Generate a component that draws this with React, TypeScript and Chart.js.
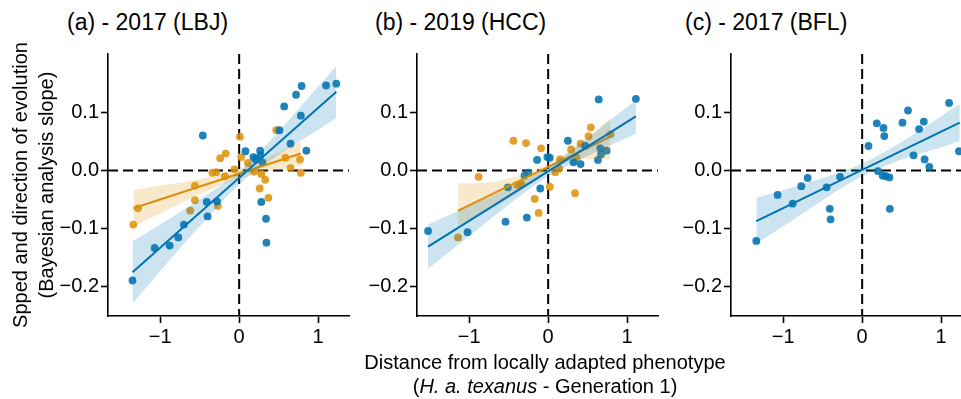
import React, { useEffect, useRef } from "react";
import { Chart, registerables } from "chart.js";
Chart.register(...registerables);

const FONT = "'Liberation Sans', Arial, Helvetica, sans-serif";

// ---- axis config ----
const X_MIN = -1.66;
const X_MAX = 1.39;
const Y_MIN = -0.25;
const Y_MAX = 0.2;
const X_TICKS = [-1, 0, 1];
const X_TICK_LABELS = ["\u22121", "0", "1"];
const Y_TICKS = [-0.2, -0.1, 0, 0.1];
const Y_TICK_LABELS = ["\u22120.2", "\u22120.1", "0.0", "0.1"];

const TITLES = ["(a) - 2017 (LBJ)", "(b) - 2019 (HCC)", "(c) - 2017 (BFL)"];

// ---- panel (a) blue ----
const aBlueX = [-1.35, -1.07, -0.88, -0.77, -0.7, -0.4, -0.41, -0.28, -0.46, 0.08, 0.18, 0.265, 0.27, 0.295, 0.21, 0.28, 0.34, 0.345, 0.51, 0.57, 0.65, 0.72, 0.78, 0.79, 0.85, 1.1, 1.23];
const aBlueY = [-0.189, -0.133, -0.129, -0.115, -0.093, -0.079, -0.054, -0.053, 0.06, 0.033, 0.023, 0.034, 0.026, 0.014, 0.019, -0.054, -0.083, -0.124, 0.069, 0.11, 0.046, 0.13, 0.094, 0.145, 0.034, 0.146, 0.149];
const aBlueFitX = [-1.35, 1.23];
const aBlueFitY = [-0.175, 0.135];
const aBlueBandX = [-1.35, -1.0, -0.5, 0, 0.5, 1.0, 1.23];
const aBlueBandHi = [-0.122, -0.093, -0.05, -0.002, 0.067, 0.144, 0.18];
const aBlueBandLo = [-0.228, -0.173, -0.096, -0.024, 0.027, 0.07, 0.09];

// ---- panel (a) orange ----
const aOrangeX = [-1.34, -1.28, -0.56, -0.56, -0.62, -0.27, -0.24, -0.17, -0.34, -0.29, -0.18, -0.06, 0.01, 0.025, 0.11, 0.19, 0.28, 0.33, 0.26, 0.37, 0.47, 0.585, 0.65, 0.77, 0.78];
const aOrangeY = [-0.093, -0.065, -0.026, -0.051, -0.069, -0.061, 0.021, 0.029, -0.004, -0.003, -0.01, 0.002, 0.058, 0.023, 0.013, -0.002, -0.006, -0.016, -0.031, -0.047, 0.069, 0.022, 0.004, 0.019, -0.004];
const aOrangeFitX = [-1.34, 0.78];
const aOrangeFitY = [-0.065, 0.029];
const aOrangeBandX = [-1.34, -1.0, -0.5, 0, 0.4, 0.78];
const aOrangeBandHi = [-0.034, -0.026, -0.015, 0.002, 0.025, 0.05];
const aOrangeBandLo = [-0.096, -0.074, -0.041, -0.014, -0.001, 0.008];

// ---- panel (b) blue ----
const bBlueX = [-1.52, -1.02, -0.54, -0.27, -0.1, -0.14, -0.01, 0.02, 0.25, 0.64, 1.11, 0.47, -0.51, -0.3, -0.25, 0.32, 0.41, 0.66, 0.74, 0.67, 0.63];
const bBlueY = [-0.104, -0.106, -0.088, -0.081, -0.031, 0.018, 0.023, 0.022, 0.051, 0.122, 0.123, 0.042, -0.029, -0.009, -0.004, 0.014, 0.011, 0.038, 0.034, 0.028, 0.018];
const bBlueFitX = [-1.52, 1.11];
const bBlueFitY = [-0.131, 0.093];
const bBlueBandX = [-1.52, -1.0, -0.5, 0, 0.5, 1.11];
const bBlueBandHi = [-0.093, -0.061, -0.03, 0.006, 0.056, 0.121];
const bBlueBandLo = [-0.169, -0.113, -0.059, -0.01, 0.025, 0.063];

// ---- panel (b) orange ----
const bOrangeX = [-1.14, -0.88, -0.44, -0.28, -0.09, 0.02, -0.17, -0.12, -0.39, -0.34, 0.09, 0.14, 0.15, 0.29, 0.36, 0.41, 0.51, 0.54, 0.79, 0.34];
const bOrangeY = [-0.115, -0.011, 0.051, 0.047, 0.038, -0.028, -0.049, -0.073, -0.025, -0.023, -0.003, 0.003, 0.019, 0.036, 0.022, 0.046, 0.059, 0.074, 0.062, -0.039];
const bOrangeFitX = [-1.14, 0.79];
const bOrangeFitY = [-0.069, 0.058];
const bOrangeBandX = [-1.14, -0.8, -0.4, 0, 0.4, 0.79];
const bOrangeBandHi = [-0.022, -0.021, -0.01, 0.013, 0.045, 0.09];
const bOrangeBandLo = [-0.094, -0.072, -0.04, -0.004, 0.02, 0.019];

// ---- panel (c) blue ----
const cBlueX = [-1.34, -1.07, -0.88, -0.77, -0.69, -0.45, -0.41, -0.4, -0.28, 0.08, 0.185, 0.27, 0.28, 0.2, 0.26, 0.3, 0.345, 0.35, 0.51, 0.58, 0.65, 0.72, 0.78, 0.79, 0.85, 1.1, 1.225];
const cBlueY = [-0.121, -0.042, -0.057, -0.027, -0.013, -0.029, -0.066, -0.084, -0.011, 0.042, 0.081, 0.073, 0.059, -0.001, -0.009, -0.01, -0.012, -0.066, 0.082, 0.103, 0.026, 0.071, 0.084, 0.019, 0.006, 0.116, 0.033];
const cBlueFitX = [-1.34, 1.235];
const cBlueFitY = [-0.087, 0.082];
const cBlueBandX = [-1.34, -1.0, -0.5, 0, 0.5, 1.0, 1.235];
const cBlueBandHi = [-0.047, -0.034, -0.013, 0.012, 0.049, 0.093, 0.114];
const cBlueBandLo = [-0.126, -0.096, -0.051, -0.01, 0.019, 0.04, 0.05];

const BLUE = { line: "#0173b2", point: "rgba(1,115,178,0.88)", band: "rgba(1,115,178,0.2)" };
const ORANGE = { line: "#de8f05", point: "rgba(222,143,5,0.85)", band: "rgba(222,143,5,0.2)" };

type Series = {
  x: number[]; y: number[];
  fitX: number[]; fitY: number[];
  bandX: number[]; bandHi: number[]; bandLo: number[];
  colors: { line: string; point: string; band: string };
};

const A_SERIES: Series[] = [
  { x: aOrangeX, y: aOrangeY, fitX: aOrangeFitX, fitY: aOrangeFitY, bandX: aOrangeBandX, bandHi: aOrangeBandHi, bandLo: aOrangeBandLo, colors: ORANGE },
  { x: aBlueX, y: aBlueY, fitX: aBlueFitX, fitY: aBlueFitY, bandX: aBlueBandX, bandHi: aBlueBandHi, bandLo: aBlueBandLo, colors: BLUE },
];
const B_SERIES: Series[] = [
  { x: bOrangeX, y: bOrangeY, fitX: bOrangeFitX, fitY: bOrangeFitY, bandX: bOrangeBandX, bandHi: bOrangeBandHi, bandLo: bOrangeBandLo, colors: ORANGE },
  { x: bBlueX, y: bBlueY, fitX: bBlueFitX, fitY: bBlueFitY, bandX: bBlueBandX, bandHi: bBlueBandHi, bandLo: bBlueBandLo, colors: BLUE },
];
const C_SERIES: Series[] = [
  { x: cBlueX, y: cBlueY, fitX: cBlueFitX, fitY: cBlueFitY, bandX: cBlueBandX, bandHi: cBlueBandHi, bandLo: cBlueBandLo, colors: BLUE },
];

const pts = (xs: number[], ys: number[]) => xs.map((x, i) => ({ x, y: ys[i] }));

const CANVAS_W = 313;
const CANVAS_H = 316;

function Panel({ left, series }: { left: number; series: Series[] }) {
  const ref = useRef<HTMLCanvasElement>(null);
  useEffect(() => {
    const datasets: any[] = [];
    datasets.push({
      data: [{ x: 0, y: Y_MAX }, { x: 0, y: Y_MIN }],
      showLine: true, borderColor: "#000", borderWidth: 2, borderDash: [10, 5],
      pointRadius: 0, order: 200,
    });
    datasets.push({
      data: [{ x: X_MIN, y: 0 }, { x: X_MAX, y: 0 }],
      showLine: true, borderColor: "#000", borderWidth: 2, borderDash: [10, 5],
      pointRadius: 0, order: 200,
    });
    series.forEach((s, k) => {
      datasets.push({
        data: pts(s.x, s.y), showLine: false,
        pointRadius: 3.9, pointBorderWidth: 0,
        pointBackgroundColor: s.colors.point, backgroundColor: s.colors.point,
        order: 150 - k,
      });
    });
    series.forEach((s, k) => {
      datasets.push({
        data: pts(s.bandX, s.bandHi), showLine: true, borderWidth: 0,
        borderColor: "rgba(0,0,0,0)", pointRadius: 0,
        cubicInterpolationMode: "monotone",
        fill: "+1", backgroundColor: s.colors.band, order: 100 - 10 * k,
      });
      datasets.push({
        data: pts(s.bandX, s.bandLo), showLine: true, borderWidth: 0,
        borderColor: "rgba(0,0,0,0)", pointRadius: 0,
        cubicInterpolationMode: "monotone",
        fill: false, order: 100 - 10 * k,
      });
      datasets.push({
        data: pts(s.fitX, s.fitY), showLine: true, borderWidth: 2,
        borderColor: s.colors.line, pointRadius: 0, fill: false,
        order: 99 - 10 * k,
      });
    });

    const tickFont = { family: FONT, size: 20 };
    const chart = new Chart(ref.current!, {
      type: "scatter",
      data: { datasets },
      options: {
        animation: false,
        responsive: false,
        maintainAspectRatio: false,
        layout: { padding: { top: 7, right: 12, left: 0, bottom: 0 } },
        plugins: { legend: { display: false }, tooltip: { enabled: false } },
        scales: {
          x: {
            type: "linear", min: X_MIN, max: X_MAX,
            afterBuildTicks: (sc: any) => { sc.ticks = X_TICKS.map((v) => ({ value: v })); },
            afterFit: (sc: any) => { sc.height = 40; },
            ticks: {
              callback: (v: any) => X_TICK_LABELS[X_TICKS.indexOf(Number(v))] ?? "",
              font: tickFont, color: "#000", padding: 2, maxRotation: 0, autoSkip: false,
            },
            grid: { drawOnChartArea: false, drawTicks: true, tickLength: 7, tickWidth: 1.6, tickColor: "#000", color: "#000" },
            border: { display: true, color: "#000", width: 1.6 },
          },
          y: {
            type: "linear", min: Y_MIN, max: Y_MAX,
            afterBuildTicks: (sc: any) => { sc.ticks = Y_TICKS.map((v) => ({ value: v })); },
            afterFit: (sc: any) => { sc.width = 60; },
            ticks: {
              callback: (v: any) => Y_TICK_LABELS[Y_TICKS.indexOf(Number(v))] ?? "",
              font: tickFont, color: "#000", padding: 2, autoSkip: false,
            },
            grid: { drawOnChartArea: false, drawTicks: true, tickLength: 7, tickWidth: 1.6, tickColor: "#000", color: "#000" },
            border: { display: true, color: "#000", width: 1.6 },
          },
        },
      } as any,
    });
    return () => chart.destroy();
  }, []);
  return (
    <canvas
      ref={ref}
      width={CANVAS_W}
      height={CANVAS_H}
      style={{ position: "absolute", left, top: 40, width: CANVAS_W, height: CANVAS_H }}
    />
  );
}

export default function App() {
  const titleStyle: React.CSSProperties = {
    position: "absolute", top: 10, fontSize: 23, lineHeight: "24px", whiteSpace: "nowrap",
  };
  return (
    <div
      style={{
        position: "absolute", left: 0, top: 0, width: 961, height: 399, overflow: "hidden",
        background: "#fff", fontFamily: FONT, color: "#000",
      }}
    >
      <div style={{ ...titleStyle, left: 67 }}>{TITLES[0]}</div>
      <div style={{ ...titleStyle, left: 375 }}>{TITLES[1]}</div>
      <div style={{ ...titleStyle, left: 685 }}>{TITLES[2]}</div>
      <Panel left={48} series={A_SERIES} />
      <Panel left={357} series={B_SERIES} />
      <Panel left={671} series={C_SERIES} />
      <div
        style={{
          position: "absolute", left: 33 - 170, top: 185 - 26, width: 340, height: 52,
          lineHeight: "26px", fontSize: 20, textAlign: "center", whiteSpace: "nowrap",
          transform: "rotate(-90deg)",
        }}
      >
        Spped and direction of evolution
        <br />
        (Bayesian analysis slope)
      </div>
      <div
        style={{
          position: "absolute", left: 545 - 300, top: 350, width: 600, textAlign: "center",
          fontSize: 20, lineHeight: "24px", whiteSpace: "nowrap",
        }}
      >
        Distance from locally adapted phenotype
        <br />
        (<i>H. a. texanus</i> - Generation 1)
      </div>
    </div>
  );
}
